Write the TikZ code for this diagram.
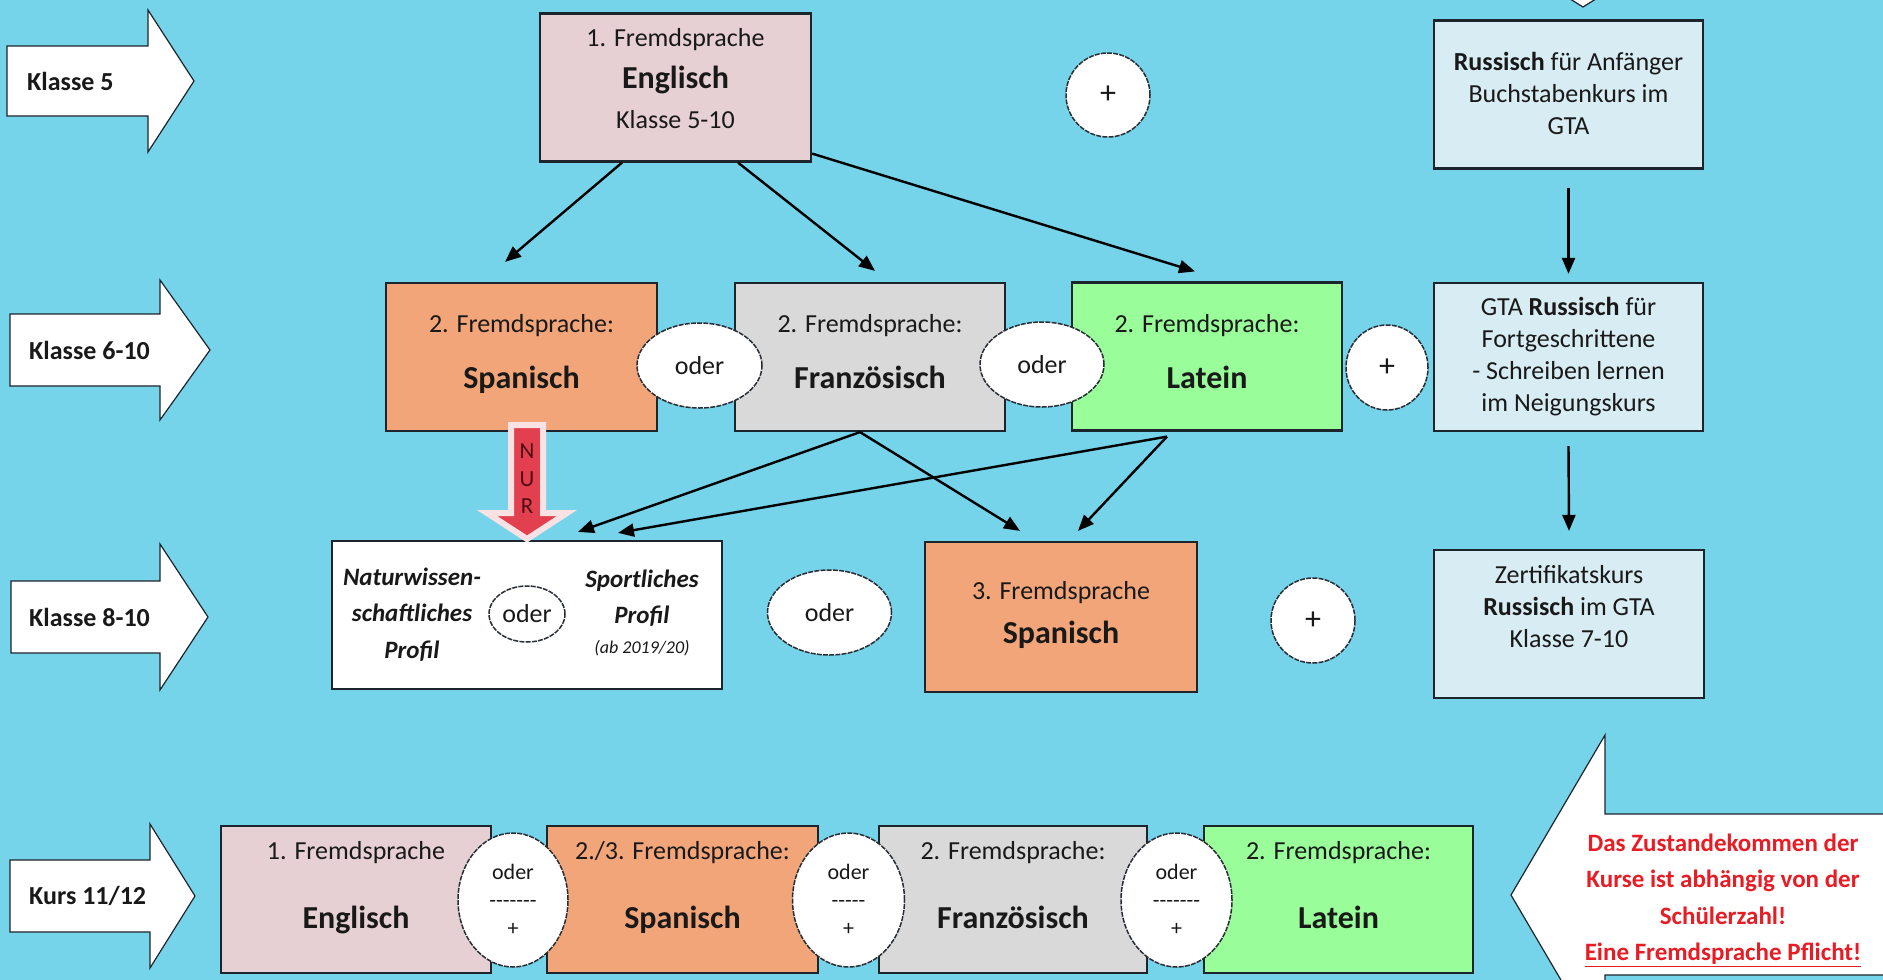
\documentclass[tikz,border=0pt]{standalone}
\usepackage{fontspec}
\setmainfont{Carlito}
\usetikzlibrary{arrows.meta,shapes.geometric}
\definecolor{bgc}{RGB}{117,211,234}
\definecolor{pinkc}{RGB}{230,208,212}
\definecolor{orac}{RGB}{243,165,122}
\definecolor{grayc}{RGB}{217,217,217}
\definecolor{greenc}{RGB}{153,253,153}
\definecolor{rusc}{RGB}{216,236,243}
\definecolor{linec}{RGB}{28,36,44}
\definecolor{ellc}{RGB}{40,46,54}
\definecolor{txtc}{RGB}{25,25,25}
\definecolor{redt}{RGB}{232,28,36}
\definecolor{nurred}{RGB}{226,64,78}
\definecolor{nuredge}{RGB}{248,226,228}
\definecolor{nurtxt}{RGB}{80,10,20}
\newcommand\NameB[1]{{\fontsize{32}{38}\selectfont\bfseries #1}}
\newcommand\hy{\mbox{-}}
\newcommand\PlusB{{\fontsize{32}{38}\selectfont +}}
\newcommand\LArw[6]{\draw[larr] (#1,#4-#5) -- (#2,#4-#5) -- (#2,#4-#6) -- (#3,#4) -- (#2,#4+#6) -- (#2,#4+#5) -- (#1,#4+#5) -- cycle;}
\begin{document}
\begin{tikzpicture}[x=1pt,y=-1pt,
  box/.style={draw=linec, line width=2.2pt, minimum width=#1, minimum height=148pt, inner sep=0pt},
  box/.default=270pt,
  ell/.style={ellipse, draw=ellc, line width=1.5pt, dash pattern=on 5pt off 1.2pt, fill=white, inner sep=0pt, font=\fontsize{26}{32}\selectfont, text=txtc},
  qell/.style={ell, align=center, font=\fontsize{22}{28}\selectfont},
  tn/.style={font=\fontsize{26}{32}\selectfont, align=center, text=txtc, inner sep=0pt},
  ptx/.style={font=\fontsize{25}{36.5}\selectfont\bfseries\itshape, align=center, text=txtc, inner sep=0pt},
  arr/.style={-{Triangle[length=16pt,width=13pt]}, line width=2.4pt, draw=black},
  larr/.style={fill=white, draw=linec, line width=1.2pt, line join=miter},
  lab/.style={font=\fontsize{26}{32}\selectfont\bfseries, anchor=west, inner sep=0pt, text=txtc},
  redtx/.style={font=\fontsize{25}{36.5}\selectfont\bfseries, align=center, text=redt, inner sep=0pt},
]
\useasboundingbox (0,0) rectangle (1883,980);
\clip (0,0) rectangle (1883,980);
\fill[bgc] (0,0) rectangle (1883,980);

% small cut-off tip at top
\draw[larr] (1567,-3) -- (1583,7) -- (1599,-3);

% left block arrows
\LArw{7}{148}{194}{81}{35}{71}
\node[lab] (k5) at (27,81) {Klasse 5};
\LArw{10}{160}{210}{350}{36}{70}
\node[lab] (k610) at (29,350) {Klasse 6-10};
\LArw{11}{160}{208}{617}{36}{73}
\node[lab] (k810) at (29,617) {Klasse 8-10};
\LArw{10}{150}{195}{896}{36}{72}
\node[lab] (k1112) at (29,896) {Kurs 11/12};

% big arrow on the right
\fill[white] (1883,814) -- (1605,814) -- (1605,735) -- (1511,895) -- (1605,1055) -- (1605,975) -- (1883,975) -- cycle;
\draw[linec, line width=1.2pt, line join=miter] (1883,814) -- (1605,814) -- (1605,735) -- (1511,895) -- (1605,1055) -- (1605,975) -- (1883,975);
\node[redtx] (note) at (1723,898.6) {\strut Das Zustandekommen der\\Kurse ist abhängig von der\\Schülerzahl!\\\underline{Eine Fremdsprache Pflicht!}\strut};

% row 1
\node[box=271pt, fill=pinkc] (en1) at (675.5,87.5) {};
\node[tn] (en1t) at (675.5,81.1) {\strut 1. Fremdsprache\\[9pt]\NameB{Englisch}\\[8pt]Klasse 5-10\strut};
\node[box=269pt, fill=rusc] (ru1) at (1568.5,94.5) {};
\node[tn] (ru1t) at (1568.5,95.6) {\strut\textbf{Russisch} für Anfänger\\Buchstabenkurs im\\GTA\strut};

% row 2
\node[box=271pt, fill=orac] (sp2) at (521.5,357) {};
\node[tn] (sp2t) at (521.5,354.1) {\strut 2. Fremdsprache:\\[23pt]\NameB{Spanisch}\strut};
\node[box=270pt, fill=grayc] (fr2) at (870,357) {};
\node[tn] (fr2t) at (870,354.1) {\strut 2. Fremdsprache:\\[23pt]\NameB{Französisch}\strut};
\node[box=270pt, fill=greenc] (la2) at (1207,356.5) {};
\node[tn] (la2t) at (1207,354.1) {\strut 2. Fremdsprache:\\[23pt]\NameB{Latein}\strut};
\node[box=269pt, fill=rusc] (ru2) at (1568.5,357) {};
\node[tn] (ru2t) at (1568.5,356.6) {\strut GTA \textbf{Russisch} für\\Fortgeschrittene\\- Schreiben lernen\\im Neigungskurs\strut};

% row 3
\node[box=390pt, fill=white] (prof) at (527,615) {};
\node[ptx] (natT) at (412,614.2) {\strut Naturwissen-\\schaftliches\\Profil\strut};
\node[ptx] (spoT) at (642,611) {\strut Sportliches\\Profil\\[-6.5pt]{\fontsize{18}{22}\selectfont\mdseries (ab 2019/20)\strut}};
\node[box=272pt, minimum height=150pt, fill=orac] (sp3) at (1061,617) {};
\node[tn] (sp3t) at (1061,615) {\strut 3. Fremdsprache\\[11pt]\NameB{Spanisch}\strut};
\node[box=270pt, fill=rusc] (ru3) at (1569,624) {};
\node[tn] (ru3t) at (1569,609) {\strut Zertifikatskurs\\\textbf{Russisch} im GTA\\Klasse 7-10\strut};

% row 4
\node[box=270pt, minimum height=147pt, fill=pinkc] (en4) at (356,899.5) {};
\node[tn] (en4t) at (356,887.6) {\strut 1. Fremdsprache\\[36pt]\NameB{Englisch}\strut};
\node[box=271pt, minimum height=147pt, fill=orac] (sp4) at (682.5,899.5) {};
\node[tn] (sp4t) at (682.5,887.6) {\strut 2./3. Fremdsprache:\\[36pt]\NameB{Spanisch}\strut};
\node[box=268pt, minimum height=147pt, fill=grayc] (fr4) at (1013,899.5) {};
\node[tn] (fr4t) at (1013,887.6) {\strut 2. Fremdsprache:\\[36pt]\NameB{Französisch}\strut};
\node[box=269pt, minimum height=147pt, fill=greenc] (la4) at (1338.5,899.5) {};
\node[tn] (la4t) at (1338.5,887.6) {\strut 2. Fremdsprache:\\[36pt]\NameB{Latein}\strut};

% connectors
\draw[arr] ([xshift=-53.5pt]en1.south) -- ([xshift=-16.5pt,yshift=20pt]sp2.north);
\draw[arr] ([xshift=62.5pt]en1.south) -- ([xshift=5pt,yshift=11pt]fr2.north);
\draw[arr] ([yshift=9pt]en1.south east) -- ([xshift=-12pt,yshift=10pt]la2.north);
\draw[arr] ([xshift=-10pt]fr2.south) -- ([xshift=51pt,yshift=8pt]prof.north);
\draw[arr] ([xshift=-40pt,yshift=-5pt]la2.south) -- ([xshift=91pt,yshift=7pt]prof.north);
\draw[arr] ([xshift=-10pt]fr2.south) -- ([xshift=-41pt,yshift=10pt]sp3.north);
\draw[arr] ([xshift=-40pt,yshift=-5pt]la2.south) -- ([xshift=17pt,yshift=10pt]sp3.north);
\draw[arr] ([yshift=-18pt]ru1.south) -- ([yshift=8pt]ru2.north);
\draw[arr] ([yshift=-14pt]ru2.south) -- ([yshift=18pt]ru3.north);

% ellipses
\node[ell, minimum width=84pt, minimum height=84pt] (p1) at (1108,95) {\PlusB};
\node[ell, minimum width=125pt, minimum height=85pt] (o1) at (699.5,365.5) {oder};
\node[ell, minimum width=124pt, minimum height=85pt] (o2) at (1042,364.5) {oder};
\node[ell, minimum width=82pt, minimum height=85pt] (p2) at (1387,367.5) {\PlusB};
\node[ell, minimum width=76pt, minimum height=56pt] (po) at (527,614) {oder};
\node[ell, minimum width=124pt, minimum height=85pt] (o3) at (829.5,612.5) {oder};
\node[ell, minimum width=84pt, minimum height=85pt] (p3) at (1313,620.5) {\PlusB};
\node[qell, minimum width=110pt, minimum height=134pt] (q1) at (513,900) {oder\\\hy\hy\hy\hy\hy\hy\hy\\+};
\node[qell, minimum width=112pt, minimum height=134pt] (q2) at (848.5,900) {oder\\\hy\hy\hy\hy\hy\\+};
\node[qell, minimum width=111pt, minimum height=134pt] (q3) at (1176.5,900) {oder\\\hy\hy\hy\hy\hy\hy\hy\\+};

% NUR arrow
\draw[fill=nurred, draw=nuredge, line width=6pt, line join=miter] (511,425) -- (543,425) -- (543,513) -- (567,513) -- (527,539) -- (487,513) -- (511,513) -- cycle;
\node[font=\fontsize{23}{27.5}\selectfont, align=center, text=nurtxt, inner sep=0pt] (nur) at (527,479) {N\\U\\R};
\end{tikzpicture}
\end{document}
